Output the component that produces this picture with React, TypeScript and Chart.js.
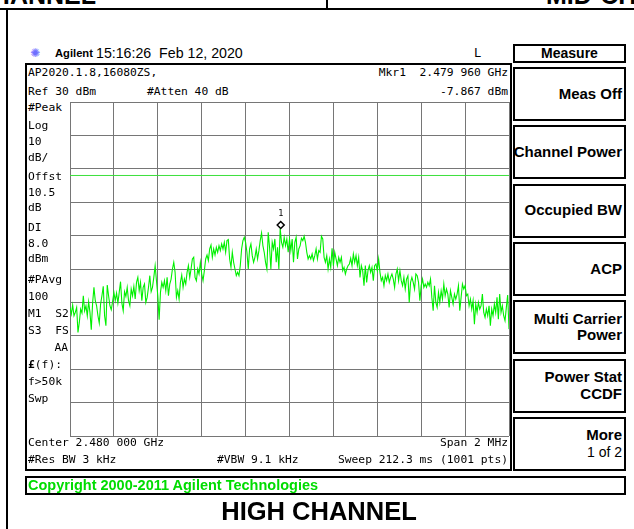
import React, { useEffect, useRef } from "react";
import { Chart, registerables } from "chart.js";

Chart.register(...registerables);

// ---- Instrument settings ----
const startMHz = 2479.0;
const stopMHz = 2481.0;
const refLevelDbm = 30;
const bottomLevelDbm = -70;
const dbPerDiv = 10;
const freqDivMHz = 0.2;
const displayLineDbm = 8.0;
const markerFreqMHz = 2479.96;
const markerDbm = -7.867;

// ---- Trace amplitudes (dBm), left to right across the span ----
const traceDbm: number[] = [
  -31.5, -33.5, -30.8, -34, -33, -31.5, -39, -36, -32, -33.2, -28, -32.5, -31, -34, -29.8, -33,
  -38.2, -30.2, -25.5, -29.5, -31, -34, -36.2, -30.5, -28, -25.2, -34, -37, -24.8, -28, -31, -32.2,
  -29.8, -27, -29.5, -27.2, -30.2, -27, -23.8, -30.2, -32.5, -26.8, -28.2, -25.5, -29.5, -31, -26,
  -28, -25.2, -29, -24, -22.5, -26.5, -24, -29.5, -25.5, -24.5, -30, -28.5, -25.5, -22, -26.8,
  -25.5, -22.5, -19, -23.5, -28, -35.2, -27, -24, -25.5, -23.5, -26.5, -22.5, -28, -24.5, -23, -20,
  -18, -21, -28.5, -26.5,
  -29, -24, -21.8, -25.5, -23, -24.5, -21, -19, -22.5, -20, -17, -16.5, -22.5, -23.5, -20, -21.5,
  -18, -21.5, -23.5, -20.5, -17, -15.8, -17.5, -14, -12.8, -16.5, -14, -15.8, -13.5, -15, -13,
  -14.5, -12.5, -14, -12, -15, -11.5, -11.2, -17, -19.5, -15, -18, -20, -22, -21, -22, -19, -14,
  -11.5, -10.5, -12, -15, -20, -14, -12.5, -16, -18, -16.5, -14, -17, -14.5, -11.5, -9.2, -13, -15,
  -18, -20, -9, -13.5, -20, -12, -14, -11, -18, -13.5, -20, -7.9, -12, -13.5, -10.5, -13, -11, -15,
  -11, -14.5, -11, -18, -12, -10.5, -17, -14, -13, -10.8, -11.5, -10.2, -12, -15, -17, -16, -17,
  -15.5, -17.5, -16, -14, -17, -14.5, -15, -10.2, -11, -16.5, -18, -16, -20, -17, -19.5, -13.8, -19,
  -15, -17, -19, -16.5, -18, -16.5, -20.5, -19.5, -21.5, -20, -19, -18.5, -16.8, -19, -15.5, -18,
  -16, -19, -16.5, -22.5, -19, -20.5, -25, -19, -24, -20.5, -19, -21, -19.5, -23.5, -19, -18.5,
  -20.5, -17, -21, -23.5, -22.5, -25, -22, -23.5, -21.5, -24, -22.5, -21.5, -23, -25.5, -21.5, -20,
  -23.5,
  -20.5, -23.5, -25, -22.5, -26, -23, -22, -30, -24, -22.5, -24, -26, -21.5, -22, -24, -29.5, -25,
  -23, -25.5, -24.5, -25.5, -24, -25, -23, -28.5, -32.5, -25, -30, -31.5, -27, -30, -26.5, -29,
  -24.5, -28, -26, -27.5, -31.5, -26.5, -28.5, -30.5, -27.5, -29, -27.5, -25, -32.5, -28.5, -24.5,
  -26, -25, -28, -27.5, -31, -29, -32, -29.5, -36.5, -30.5, -33, -30, -32, -31, -27.5, -33, -34.5,
  -32, -34, -31, -37, -32, -34, -30.5, -33, -28.5, -35, -27.5, -33, -31, -34, -35.5, -31.5, -27.8,
  -38,
];

// ---- Text on the screen ----
const headerTime = "15:16:26  Feb 12, 2020";
const titleLine = "AP2020.1.8,16080ZS,";
const refText = "Ref 30 dBm";
const attenText = "#Atten 40 dB";
const mkrFreqText = "Mkr1  2.479 960 GHz";
const mkrAmpText = "-7.867 dBm";
const leftAnnotations: { t: string; y: number; right?: boolean; bold?: boolean }[] = [
  { t: "#Peak", y: 108 },
  { t: "Log", y: 126 },
  { t: "10", y: 142 },
  { t: "dB/", y: 158 },
  { t: "Offst", y: 177 },
  { t: "10.5", y: 193 },
  { t: "dB", y: 208 },
  { t: "DI", y: 228 },
  { t: "8.0", y: 244 },
  { t: "dBm", y: 259 },
  { t: "#PAvg", y: 280 },
  { t: "100", y: 297 },
  { t: "M1  S2", y: 314 },
  { t: "S3  FS", y: 331 },
  { t: "AA", y: 348, right: true },
  { t: "(f):", y: 365, bold: true },
  { t: "f>50k", y: 382 },
  { t: "Swp", y: 399 },
];
const centerText = "Center 2.480 000 GHz";
const spanText = "Span 2 MHz";
const rbwText = "#Res BW 3 kHz";
const vbwText = "#VBW 9.1 kHz";
const sweepText = "Sweep 212.3 ms (1001 pts)";
const softkeys: string[][] = [
  ["Meas Off"],
  ["Channel Power"],
  ["Occupied BW"],
  ["ACP"],
  ["Multi Carrier", "Power"],
  ["Power Stat", "CCDF"],
  ["More"],
];
const copyrightText = "Copyright 2000-2011 Agilent Technologies";
const captionText = "HIGH CHANNEL";

const MONO = '"DejaVu Sans Mono", monospace';
const SANS = '"Liberation Sans", Arial, sans-serif';

const W = 634;

function Txt(props: {
  x: number;
  y: number;
  children: React.ReactNode;
  right?: boolean;
  size?: number;
  font?: string;
  bold?: boolean;
  color?: string;
}) {
  const lh = 16;
  const style: React.CSSProperties = {
    position: "absolute",
    top: props.y - lh / 2,
    lineHeight: lh + "px",
    height: lh,
    whiteSpace: "pre",
    fontFamily: props.font || MONO,
    fontSize: (props.size || 11.3) + "px",
    fontWeight: props.bold ? 700 : 400,
    color: props.color || "#000",
  };
  if (props.right) style.right = W - props.x;
  else style.left = props.x;
  return <div style={style}>{props.children}</div>;
}

function Box(props: { x: number; y: number; w: number; h: number; bw?: number; children?: React.ReactNode }) {
  return (
    <div
      style={{
        position: "absolute",
        left: props.x,
        top: props.y,
        width: props.w,
        height: props.h,
        boxSizing: "border-box",
        border: `${props.bw ?? 2}px solid #000`,
        background: "transparent",
      }}
    >
      {props.children}
    </div>
  );
}

const markerPlugin = {
  id: "mkr",
  afterDatasetsDraw(chart: any) {
    const { ctx } = chart;
    const xs = chart.scales.x;
    const ys = chart.scales.y;
    const px = xs.getPixelForValue(markerFreqMHz);
    const py = ys.getPixelForValue(markerDbm);
    ctx.save();
    ctx.beginPath();
    ctx.moveTo(px, py);
    ctx.lineTo(px + 3.5, py - 3.5);
    ctx.lineTo(px, py - 7);
    ctx.lineTo(px - 3.5, py - 3.5);
    ctx.closePath();
    ctx.fillStyle = "#fff";
    ctx.fill();
    ctx.strokeStyle = "#000";
    ctx.lineWidth = 1.5;
    ctx.stroke();
    ctx.fillStyle = "#000";
    ctx.font = '8.5px "DejaVu Sans Mono"';
    ctx.textAlign = "center";
    ctx.textBaseline = "bottom";
    ctx.fillText("1", px, py - 10);
    ctx.restore();
  },
};

function Plot() {
  const ref = useRef<HTMLCanvasElement | null>(null);
  useEffect(() => {
    if (!ref.current) return;
    const n = traceDbm.length;
    const pts = traceDbm.map((v, i) => ({ x: startMHz + ((stopMHz - startMHz) * i) / (n - 1), y: v }));
    const chart = new Chart(ref.current, {
      type: "line",
      data: {
        datasets: [
          {
            data: [
              { x: startMHz, y: displayLineDbm },
              { x: stopMHz, y: displayLineDbm },
            ],
            borderColor: "#3be03b",
            borderWidth: 1,
            pointRadius: 0,
          },
          {
            data: pts,
            borderColor: "#00f000",
            borderWidth: 1.1,
            pointRadius: 0,
            tension: 0,
          },
        ],
      },
      options: {
        animation: false,
        responsive: false,
        maintainAspectRatio: false,
        layout: { padding: 1 },
        plugins: { legend: { display: false }, tooltip: { enabled: false } },
        scales: {
          x: {
            type: "linear",
            min: startMHz,
            max: stopMHz,
            ticks: { display: false, stepSize: freqDivMHz },
            grid: { color: "#767676", lineWidth: 1, drawTicks: false },
            border: { display: false },
          },
          y: {
            type: "linear",
            min: bottomLevelDbm,
            max: refLevelDbm,
            ticks: { display: false, stepSize: dbPerDiv },
            grid: { color: "#767676", lineWidth: 1, drawTicks: false },
            border: { display: false },
          },
        },
      },
      plugins: [markerPlugin],
    });
    return () => chart.destroy();
  }, []);
  return (
    <canvas
      ref={ref}
      width={441}
      height={336}
      style={{ position: "absolute", left: 69, top: 101, width: 441, height: 336, display: "block" }}
    />
  );
}

export default function App() {
  const skTops = [67, 125.3, 183.6, 242, 300.2, 358.5, 416.8];
  return (
    <div
      style={{
        position: "fixed",
        left: 0,
        top: 0,
        width: W,
        height: 529,
        background: "#fff",
        overflow: "hidden",
      }}
    >
      {/* cut-off page header */}
      <div style={{ position: "absolute", left: 0, top: 0, width: W, height: 8, overflow: "hidden" }}>
        <div
          style={{
            position: "absolute",
            right: W - 96,
            top: -17,
            fontFamily: SANS,
            fontWeight: 700,
            fontSize: 25,
            lineHeight: "25px",
            whiteSpace: "pre",
          }}
        >
          CHANNEL
        </div>
        <div
          style={{
            position: "absolute",
            left: 546,
            top: -17,
            fontFamily: SANS,
            fontWeight: 700,
            fontSize: 25,
            lineHeight: "25px",
            whiteSpace: "pre",
          }}
        >
          MID-CH
        </div>
      </div>
      <div style={{ position: "absolute", left: 0, top: 8, width: W, height: 2, background: "#000" }} />
      <div style={{ position: "absolute", left: 326, top: 0, width: 2, height: 9, background: "#000" }} />
      <div style={{ position: "absolute", left: 6, top: 8, width: 2, height: 521, background: "#000" }} />

      {/* header line */}
      <Txt x={30} y={53} font={"DejaVu Sans"} size={12} color="#6f6fff">
        ✺
      </Txt>
      <Txt x={55} y={53} font={SANS} size={11.2} bold>
        Agilent
      </Txt>
      <Txt x={96} y={53} font={SANS} size={14.2}>
        {headerTime}
      </Txt>
      <Txt x={474} y={53} font={MONO} size={12}>
        L
      </Txt>

      <Box x={513} y={44} w={113} h={19}>
        <div
          style={{
            textAlign: "center",
            fontFamily: SANS,
            fontWeight: 700,
            fontSize: 14,
            lineHeight: "15px",
          }}
        >
          Measure
        </div>
      </Box>

      {/* main screen frame */}
      <Box x={25} y={63} w={487} h={408} />
      <Plot />

      <Txt x={28} y={73}>{titleLine}</Txt>
      <Txt x={28} y={92}>{refText}</Txt>
      <Txt x={147} y={92}>{attenText}</Txt>
      <Txt x={508} y={73} right>
        {mkrFreqText}
      </Txt>
      <Txt x={508} y={92} right>
        {mkrAmpText}
      </Txt>

      {leftAnnotations.map((a, i) =>
        a.bold ? (
          <Txt key={i} x={28} y={a.y}>
            <b>£</b>
            {a.t}
          </Txt>
        ) : (
          <Txt key={i} x={a.right ? 68 : 28} y={a.y} right={a.right}>
            {a.t}
          </Txt>
        )
      )}

      <Txt x={28} y={443}>{centerText}</Txt>
      <Txt x={508} y={443} right>
        {spanText}
      </Txt>
      <Txt x={28} y={460}>{rbwText}</Txt>
      <Txt x={217} y={460}>{vbwText}</Txt>
      <Txt x={508} y={460} right>
        {sweepText}
      </Txt>

      {/* softkeys */}
      {softkeys.map((lines, i) => (
        <Box key={i} x={513} y={skTops[i]} w={113} h={54}>
          <div
            style={{
              position: "absolute",
              right: 2,
              top: 0,
              bottom: 0,
              display: "flex",
              flexDirection: "column",
              justifyContent: "center",
              alignItems: "flex-end",
              fontFamily: SANS,
              fontWeight: 700,
              fontSize: 15,
              lineHeight: "16.5px",
              whiteSpace: "pre",
            }}
          >
            {lines.map((l, j) => (
              <div key={j}>{l}</div>
            ))}
            {i === 6 ? <div style={{ fontWeight: 400, fontSize: 14 }}>1 of 2</div> : null}
          </div>
        </Box>
      ))}

      {/* copyright strip */}
      <Box x={25} y={476} w={601} h={19}>
        <div
          style={{
            position: "absolute",
            left: 1,
            top: 0,
            fontFamily: SANS,
            fontWeight: 700,
            fontSize: 14.5,
            lineHeight: "15px",
            color: "#00dc00",
            whiteSpace: "pre",
          }}
        >
          {copyrightText}
        </div>
      </Box>

      <div
        style={{
          position: "absolute",
          left: 0,
          width: W,
          top: 497,
          textAlign: "center",
          fontFamily: SANS,
          fontWeight: 700,
          fontSize: 25.5,
          lineHeight: "28px",
          paddingLeft: 2,
        }}
      >
        {captionText}
      </div>
    </div>
  );
}
